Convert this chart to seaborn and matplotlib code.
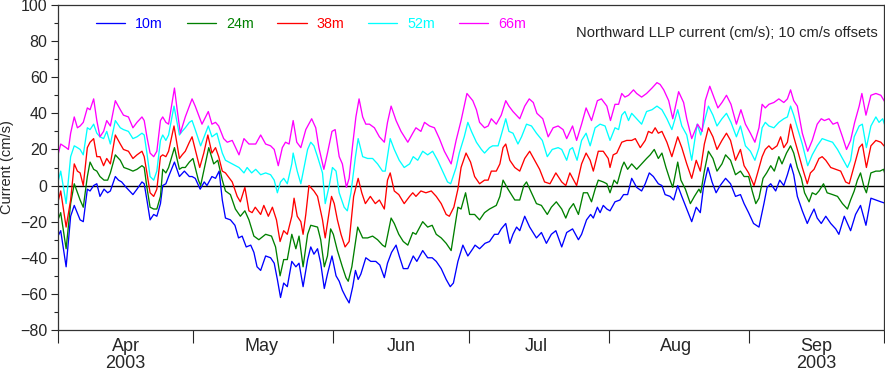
import pandas as pd
import seaborn as sns
import matplotlib.pyplot as plt
import matplotlib.dates as mdates
import matplotlib.ticker as mticker

# values: day offset from 2003-04-01 and current (cm/s, offsets included)
days_10m = [0, 0.6, 1.8, 2.8, 3.6, 4.9, 5.6, 6.5, 7.1, 7.9, 8.6, 9.3, 10.2, 11.0, 11.6, 12.7, 13.4, 14.1, 15.1, 16.6, 17.5, 18.6, 19.1, 19.7, 20.4, 21.2, 21.9, 22.7, 23.2, 23.9, 24.5, 25.8, 26.9, 28.0, 29.1, 29.7,
            30.4, 31.5, 32.4, 33.0, 34.1, 34.9, 35.7, 36.4, 37.1, 38.2, 39.2, 40.0, 40.8, 41.7, 42.7, 43.4, 44.1, 44.9, 46.0, 47.1, 47.9, 48.6, 49.3, 50.0, 50.8, 51.8, 52.7, 53.4, 54.3, 55.3, 56.0, 56.7, 57.5, 58.2, 59.0, 59.7, 60.7,
            61.6, 62.3, 63.0, 63.8, 64.5, 65.3, 65.9, 66.5, 67.1, 68.2, 69.3, 70.4, 71.3, 72.3, 73.0, 73.9, 74.9, 75.6, 76.5, 77.5, 78.7, 79.5, 80.8, 81.9, 82.9, 83.8, 84.9, 86.0, 86.9, 87.6, 88.6, 89.7, 90.8, 91.9,
            92.4, 93.4, 94.6, 95.6, 96.7, 97.5, 98.2, 99.2, 100.1, 100.8, 101.6, 102.3, 103.4, 104.5, 106.0, 107.1, 108.2, 109.3, 110.3, 111.6, 112.7, 114.0, 115.3, 116.0, 117.1, 118.0, 118.6, 119.5, 120.1, 120.8, 121.6,
            122.3, 123.4, 124.5, 125.3, 126.2, 127.1, 128.2, 129.3, 130.1, 131.0, 131.9, 133.0, 133.8, 134.5, 135.6, 136.4, 137.3, 138.2, 139.3, 140.4, 141.4, 142.3, 143.0, 144.0, 144.9, 145.8, 146.7, 147.9, 149.0, 150.1, 151.2, 152.0, 153.0, 154.1,
            155.3, 156.4, 157.1, 157.9, 159.0, 159.9, 160.8, 161.6, 162.3, 163.0, 163.8, 164.9, 166.0, 166.7, 167.5, 168.2, 169.1, 170.1, 171.2, 172.3, 173.0, 174.2, 174.9, 175.6, 176.7, 177.8, 179.0, 180.1, 181.2, 182.3, 183.5]
cur_10m = [-28, -25, -45, -17, -11, -19, -20, -2, -3, 0, 1, -6, -2, -4, -3, 5, 3, 2, -1, -5, -2, 2, 1, -8, -19, -16, -17, -10, 0, 1, 5, 13, 5, 8, 5, 5,
           4, -2, 2, 0, 5, 4, 8, -8, -18, -19, -22, -29, -28, -34, -33, -37, -45, -47, -39, -40, -43, -52, -62, -54, -56, -42, -45, -43, -56, -41, -34, -38, -35, -43, -57, -49, -39,
           -50, -53, -58, -62, -65, -56, -47, -52, -49, -40, -42, -42, -44, -51, -43, -37, -33, -39, -46, -46, -39, -42, -36, -40, -40, -42, -46, -52, -56, -54, -42, -33, -39, -35,
           -33, -35, -32, -31, -27, -27, -24, -21, -32, -27, -23, -25, -17, -23, -29, -26, -32, -27, -25, -34, -26, -24, -30, -27, -19, -16, -18, -12, -15, -11, -13,
           -14, -9, -8, -5, -5, 4, -1, -3, 1, 7, 5, 1, 0, -5, -6, -8, 0, -6, -13, -20, -12, -15, -1, 10, 2, -4, 0, 4, 1, -6, -5, -10, -15, -21,
           -23, -10, -1, 1, -3, 3, 0, 6, 12, 6, -6, -14, -21, -17, -13, -18, -21, -17, -21, -24, -27, -17, -21, -25, -16, -11, -22, -7, -8, -9, -10]

days_24m = [0, 0.6, 1.8, 2.8, 3.6, 4.9, 5.6, 6.5, 7.1, 7.9, 8.6, 9.3, 10.2, 11.0, 11.6, 12.7, 13.8, 14.6, 15.7, 16.6, 17.5, 18.6, 19.1, 19.7, 20.4, 21.2, 21.9, 22.7, 23.2, 23.9, 24.5, 25.8, 26.9, 27.5, 28.2, 29.1, 29.9,
            30.6, 31.1, 31.6, 33.4, 34.5, 35.4, 36.4, 37.1, 38.2, 39.3, 40.4, 41.4, 42.3, 43.4, 44.5, 46.0, 47.3, 48.2, 49.2, 50.0, 50.8, 51.8, 52.7, 53.4, 54.3, 55.3, 56.0, 57.5, 58.2, 59.0, 59.7, 60.4,
            61.0, 61.9, 63.0, 63.8, 64.3, 65.1, 66.4, 67.5, 68.6, 69.7, 70.8, 71.9, 72.5, 73.8, 74.5, 75.5, 76.5, 77.5, 78.6, 79.3, 80.8, 81.9, 82.9, 83.8, 84.9, 86.0, 87.1, 87.9, 88.6, 89.3, 90.3, 91.2, 92.3,
            93.4, 94.5, 95.6, 97.1, 97.9, 98.6, 99.7, 101.2, 102.3, 103.2, 103.8, 104.9, 106.0, 107.1, 108.4, 109.3, 110.4, 111.6, 112.5, 113.3, 114.2, 115.3, 116.4, 117.3, 118.2, 119.0, 119.7, 120.8, 121.6, 122.3, 123.2,
            123.9, 124.9, 125.4, 126.2, 127.1, 128.2, 129.3, 130.4, 131.2, 132.1, 133.0, 133.8, 134.7, 135.6, 136.2, 137.3, 138.0, 139.0, 140.1, 141.0, 142.0, 142.4, 143.2, 144.1, 145.1, 146.0, 147.1, 147.9, 149.0, 150.1, 151.2, 152.0, 153.0, 153.8, 154.6,
            155.3, 156.2, 157.0, 157.9, 158.7, 159.7, 160.4, 161.4, 162.3, 163.0, 163.8, 164.7, 165.4, 166.4, 167.1, 167.9, 168.6, 169.6, 170.4, 171.6, 172.7, 173.8, 174.9, 175.6, 176.4, 177.1, 177.8, 178.6, 179.1, 180.1, 181.2, 182.1, 182.9, 183.5]
cur_24m = [-19, -15, -35, -10, 1, -8, -12, 5, 13, 9, 8, 5, 3, 3, 7, 17, 14, 10, 9, 8, 9, 11, 10, -1, -12, -13, -13, -6, 9, 7, 10, 21, 9, 10, 10, 13, 15,
           8, 3, 0, 21, 12, 14, 3, -3, -5, -13, -17, -14, -19, -28, -30, -27, -28, -34, -50, -41, -41, -27, -35, -28, -45, -27, -22, -23, -30, -45, -39, -24,
           -27, -36, -45, -51, -53, -45, -23, -29, -29, -28, -30, -33, -34, -18, -21, -27, -31, -33, -26, -27, -20, -23, -22, -27, -29, -32, -36, -23, -12, -13, -4, -16, -16,
           -19, -15, -13, -11, -6, 3, -2, -8, -8, 0, 2, -4, -10, -11, -16, -12, -9, -13, -18, -13, -10, -16, -4, -4, -9, -2, 3, 2, 1, -4, 3,
           1, 10, 13, 9, 12, 9, 12, 15, 17, 20, 15, 18, 10, 3, -1, 13, 3, -2, -10, -6, -2, -4, 8, 19, 15, 8, 12, 17, 14, 6, 8, 5, 5, -3, -10,
           -7, 4, 7, 11, 8, 16, 12, 18, 22, 18, 10, 4, -4, -9, -4, -5, -3, 1, -4, -5, -6, -10, -13, -8, -3, 3, 7, -1, -4, 7, 8, 8, 9, 4]

days_38m = [0, 0.6, 1.8, 2.8, 3.6, 4.3, 4.9, 5.6, 6.5, 7.1, 7.9, 8.6, 9.3, 10.1, 10.8, 11.6, 12.7, 13.8, 14.5, 15.6, 16.6, 17.5, 18.6, 19.1, 19.7, 20.4, 21.2, 21.9, 22.7, 23.2, 23.9, 24.5, 25.7, 26.9, 27.5, 28.2, 29.1, 29.7,
            30.4, 31.4, 32.3, 33.2, 34.1, 34.9, 35.6, 36.4, 37.1, 38.6, 39.7, 40.4, 41.4, 42.3, 43.0, 43.7, 44.9, 45.6, 46.6, 47.5, 48.4, 49.2, 50.0, 50.8, 51.8, 52.3, 53.0, 53.8, 54.3, 54.9, 55.6, 56.7, 57.5, 58.6, 59.2, 60.0, 60.6,
            61.2, 61.9, 62.7, 63.6, 64.5, 65.5, 66.5, 67.3, 68.1, 69.2, 70.3, 71.2, 72.3, 73.0, 73.6, 74.5, 75.5, 76.7, 77.9, 78.6, 79.3, 80.4, 81.5, 82.7, 83.8, 84.9, 86.0, 86.7, 87.7, 88.6, 89.3, 90.4, 91.4, 92.3,
            93.4, 94.5, 95.3, 96.0, 97.1, 97.9, 98.6, 99.2, 100.1, 101.2, 102.3, 103.4, 104.5, 105.6, 106.7, 107.8, 109.0, 110.3, 111.6, 112.5, 113.4, 114.9, 116.0, 117.0, 117.9, 118.6, 119.7, 120.8, 121.9, 122.3, 123.0,
            123.8, 124.9, 126.0, 127.1, 127.9, 129.0, 130.1, 130.8, 131.6, 132.3, 133.0, 133.8, 134.9, 136.0, 137.3, 138.2, 139.3, 140.4, 141.4, 142.3, 143.2, 144.1, 145.1, 146.0, 147.1, 148.1, 149.0, 150.1, 151.2, 152.0, 153.0, 154.2,
            155.0, 156.0, 156.7, 157.5, 158.2, 159.3, 160.1, 160.8, 161.6, 162.3, 163.0, 163.8, 164.9, 166.0, 166.7, 167.5, 168.6, 169.3, 170.1, 171.2, 172.3, 173.4, 174.5, 175.3, 176.4, 177.5, 178.2, 179.1, 180.1, 181.2, 182.3, 183.0, 183.5]
cur_38m = [-9, -3, -23, -8, 12, 8, 7, 0, 21, 24, 26, 16, 16, 11, 15, 12, 28, 23, 20, 19, 15, 17, 19, 16, 7, -4, -6, -2, 16, 17, 16, 19, 33, 15, 17, 19, 24, 27,
           20, 10, 18, 28, 18, 21, 16, 8, 7, 2, -6, -9, -1, -14, -15, -12, -16, -11, -17, -12, -19, -31, -25, -27, -17, -7, -17, -20, -27, -16, 0, -3, -6, -19, -29, -16, -6,
           -10, -19, -27, -34, -31, -6, 4, -4, -10, -6, -10, -8, -13, 3, 7, -3, -5, -10, -6, -4, -6, -3, -4, -3, -6, -10, -16, -17, -12, -2, 10, 18, 13, 5,
           1, 3, 3, 8, 8, 12, 21, 23, 14, 10, 8, 15, 19, 14, 9, 2, 1, 7, 2, 0, 7, 0, 12, 18, 14, 8, 19, 19, 15, 10, 17,
           18, 24, 25, 25, 26, 21, 25, 30, 29, 32, 29, 30, 24, 16, 27, 21, 12, 4, 14, 8, 23, 32, 27, 20, 25, 29, 25, 14, 20, 11, 7, 0,
           7, 16, 20, 22, 20, 22, 27, 21, 24, 34, 27, 20, 10, 1, 7, 9, 15, 16, 14, 10, 9, 8, 2, 1, 11, 21, 23, 10, 22, 25, 24, 22, 21]

days_52m = [0, 0.6, 1.8, 2.8, 3.6, 4.3, 4.9, 5.6, 6.5, 7.1, 7.9, 8.6, 9.3, 10.1, 10.8, 11.6, 12.7, 13.8, 14.5, 15.6, 16.6, 17.5, 18.6, 19.1, 19.7, 20.4, 21.2, 21.9, 22.7, 23.2, 23.9, 24.5, 25.7, 26.9, 27.5, 28.2, 29.1, 29.7,
            30.4, 31.6, 33.3, 34.1, 35.2, 36.4, 37.1, 38.6, 40.1, 41.2, 41.9, 42.9, 43.8, 44.9, 46.0, 47.1, 47.9, 48.6, 49.3, 50.0, 50.8, 51.8, 52.1, 53.0, 53.8, 54.5, 55.3, 56.0, 56.7, 57.5, 58.6, 59.2, 60.1, 60.8, 61.6,
            62.3, 63.4, 64.1, 64.9, 65.9, 66.5, 67.5, 68.6, 69.7, 70.8, 71.9, 72.5, 73.6, 74.5, 75.6, 76.7, 77.9, 78.7, 79.7, 80.8, 81.9, 83.0, 84.1, 85.2, 86.3, 87.0, 88.2, 88.9, 90.0, 90.8, 91.6, 92.7,
            93.8, 94.5, 95.6, 96.3, 97.5, 98.2, 99.2, 99.9, 100.8, 101.9, 102.7, 103.8, 104.9, 106.0, 107.3, 108.4, 109.5, 110.8, 111.6, 112.7, 113.4, 114.0, 115.0, 116.0, 117.0, 117.9, 119.0, 120.1, 121.2, 122.3, 123.4,
            124.2, 124.9, 125.6, 126.4, 127.1, 128.2, 129.3, 130.4, 131.6, 132.7, 133.8, 134.9, 136.0, 137.3, 138.2, 139.3, 140.4, 141.6, 142.4, 144.1, 145.1, 146.0, 147.1, 148.1, 149.1, 150.3, 151.2, 152.3, 153.4, 154.4,
            155.3, 156.0, 156.7, 157.5, 158.6, 159.7, 160.8, 161.6, 162.3, 163.0, 163.8, 164.9, 166.1, 167.1, 168.2, 169.3, 170.4, 171.6, 172.7, 173.8, 174.9, 175.6, 176.4, 177.5, 178.2, 179.1, 180.1, 181.2, 181.9, 182.7, 183.5]
cur_52m = [2, 8, -10, 16, 22, 21, 20, 17, 32, 31, 34, 29, 27, 26, 30, 23, 36, 32, 31, 30, 26, 27, 29, 28, 18, 5, 3, 8, 25, 28, 25, 28, 44, 28, 30, 32, 35, 36,
           31, 22, 33, 27, 29, 18, 14, 12, 10, 7, 10, 7, 9, 6, 7, 6, 3, -4, 2, 4, 1, 12, 18, 8, 1, 10, 20, 24, 22, 16, 7, -10, 0, 10, 8,
           -4, -12, -14, -4, 16, 26, 16, 15, 15, 12, 8, 8, 26, 20, 14, 10, 12, 16, 14, 19, 17, 19, 14, 8, 2, 1, 10, 18, 27, 35, 30, 24,
           20, 18, 21, 22, 22, 28, 37, 30, 29, 23, 27, 34, 33, 29, 25, 16, 20, 21, 20, 14, 20, 21, 14, 25, 29, 22, 32, 34, 33, 25, 32,
           31, 39, 41, 36, 40, 37, 34, 41, 42, 44, 42, 37, 31, 42, 33, 28, 14, 34, 28, 44, 39, 33, 37, 40, 35, 27, 33, 22, 19, 14,
           21, 32, 35, 33, 32, 35, 37, 38, 44, 39, 32, 23, 11, 17, 22, 26, 25, 24, 20, 15, 10, 14, 27, 33, 34, 21, 33, 38, 35, 37, 31]

days_66m = [0, 0.6, 1.8, 2.3, 2.8, 3.6, 4.3, 4.9, 5.6, 6.5, 7.1, 7.9, 8.6, 9.3, 10.1, 10.8, 11.6, 12.7, 13.8, 14.5, 15.6, 16.6, 17.5, 18.6, 19.1, 19.7, 20.4, 21.2, 21.9, 22.7, 23.2, 23.9, 24.5, 25.8, 26.4, 27.1, 28.2, 29.7,
            30.4, 31.9, 33.3, 34.1, 34.9, 35.6, 36.7, 37.5, 38.6, 40.1, 41.2, 42.3, 43.8, 44.9, 46.0, 47.1, 47.9, 48.8, 49.7, 50.4, 51.2, 52.1, 52.9, 53.8, 54.9, 56.2, 57.1, 57.8, 58.9, 59.7, 60.7, 61.4,
            62.3, 63.0, 63.9, 64.5, 65.3, 66.0, 66.7, 67.5, 68.2, 69.0, 70.1, 71.2, 72.3, 73.0, 73.8, 74.9, 76.0, 77.5, 78.6, 79.3, 80.4, 81.2, 82.3, 83.4, 84.5, 85.6, 87.1, 88.2, 89.3, 90.6, 91.9,
            92.7, 93.4, 94.5, 95.3, 96.0, 97.1, 98.2, 99.2, 99.9, 100.8, 102.3, 103.4, 104.4, 105.3, 106.1, 107.4, 108.6, 109.7, 110.8, 111.9, 112.7, 114.0, 114.9, 116.0, 117.0, 118.2, 119.5, 120.4, 121.6, 122.4, 123.4,
            124.2, 124.9, 125.6, 126.4, 127.5, 128.2, 129.3, 130.4, 131.6, 132.7, 133.4, 134.2, 135.3, 136.2, 137.5, 138.6, 139.3, 140.4, 141.7, 142.7, 143.4, 144.4, 145.3, 146.2, 147.1, 148.1, 149.1, 150.3, 151.3, 152.3, 153.4, 154.4,
            155.3, 156.0, 156.7, 157.5, 158.6, 159.7, 160.8, 161.6, 162.3, 163.0, 163.8, 164.9, 166.1, 167.1, 168.2, 169.1, 169.8, 170.8, 171.7, 172.7, 173.8, 174.7, 175.6, 176.5, 177.5, 178.1, 179.0, 180.1, 181.2, 182.3, 183.5]
cur_66m = [17, 23, 21, 20, 29, 38, 32, 33, 35, 43, 42, 48, 36, 27, 30, 36, 33, 47, 42, 39, 38, 32, 35, 38, 36, 27, 18, 16, 19, 36, 38, 35, 34, 54, 42, 29, 38, 48,
           44, 34, 41, 34, 35, 33, 26, 24, 25, 17, 26, 23, 23, 28, 23, 22, 20, 11, 21, 24, 23, 36, 24, 21, 31, 37, 32, 21, 9, 18, 30, 31,
           16, 12, -1, 4, 23, 38, 48, 38, 34, 34, 32, 27, 24, 35, 44, 36, 30, 24, 29, 32, 30, 35, 33, 32, 26, 19, 12, 25, 36, 51, 47,
           42, 35, 32, 33, 37, 34, 39, 47, 44, 41, 37, 44, 48, 46, 40, 37, 27, 32, 33, 31, 26, 33, 25, 34, 43, 36, 47, 48, 44, 36, 45,
           45, 51, 49, 50, 53, 51, 49, 51, 54, 57, 56, 53, 47, 37, 52, 46, 37, 26, 34, 30, 47, 55, 49, 43, 46, 50, 45, 34, 42, 34, 29, 24,
           32, 45, 43, 45, 46, 48, 46, 48, 53, 47, 44, 29, 19, 25, 34, 37, 36, 37, 34, 35, 27, 20, 25, 35, 44, 51, 39, 50, 51, 50, 45]

depths = ['10m', '24m', '38m', '52m', '66m']
colors = ['#0000ff', '#008000', '#ff0000', '#00ffff', '#ff00ff']
month_names = ['Apr', 'May', 'Jun', 'Jul', 'Aug', 'Sep']

start = pd.Timestamp('2003-04-01')
frames = []
for name, d, v in zip(depths,
                      [days_10m, days_24m, days_38m, days_52m, days_66m],
                      [cur_10m, cur_24m, cur_38m, cur_52m, cur_66m]):
    frames.append(pd.DataFrame({'time': start + pd.to_timedelta(d, unit='D'),
                                'current': v, 'depth': name}))
df = pd.concat(frames, ignore_index=True)

sns.set_style('ticks')
plt.rcParams['font.family'] = ['Liberation Sans', 'DejaVu Sans']

fig = plt.figure(figsize=(8.85, 3.72), dpi=100)
ax = fig.add_axes([58/885, 1 - 330/372, 826/885, 325/372])

sns.lineplot(data=df, x='time', y='current', hue='depth', palette=colors,
             estimator=None, sort=False, linewidth=0.95,
             solid_joinstyle='round', solid_capstyle='round', ax=ax)
ax.axhline(0, color='black', lw=1.0, zorder=1)

ax.set_xlim(start, pd.Timestamp('2003-10-01'))
ax.set_ylim(-80, 100)
ax.yaxis.set_major_locator(mticker.MultipleLocator(20))
ax.yaxis.set_minor_locator(mticker.MultipleLocator(10))

ax.xaxis.set_major_locator(mdates.MonthLocator())
ax.xaxis.set_major_formatter(mticker.NullFormatter())
ax.xaxis.set_minor_locator(mdates.MonthLocator(bymonthday=16))


def month_label(x, pos):
    m = mdates.num2date(x).month
    lab = month_names[m - 4] if 4 <= m <= 9 else ''
    if m in (4, 9):
        lab += '\n2003'
    return lab


ax.xaxis.set_minor_formatter(mticker.FuncFormatter(month_label))
ax.tick_params(axis='x', which='major', length=9.5, width=0.8)
ax.tick_params(axis='x', which='minor', length=0, labelsize=13, pad=6)
ax.tick_params(axis='y', which='major', length=5, width=0.8, labelsize=11.5, pad=2.5)
ax.tick_params(axis='y', which='minor', length=3, width=0.8)
for lab in ax.xaxis.get_minorticklabels():
    lab.set_linespacing(0.95)

for s in ax.spines.values():
    s.set_color('#333333')
    s.set_linewidth(0.9)

ax.set_xlabel('')
ax.set_ylabel('Current (cm/s)', fontsize=10.5)
ax.yaxis.set_label_coords(-0.053, 0.5)

handles, labels = ax.get_legend_handles_labels()
ax.legend(handles, labels, ncol=5, frameon=False, loc='center left',
          bbox_to_anchor=(0.046, 0.942), fontsize=10.3, labelcolor='linecolor',
          handlelength=2.05, handletextpad=0.7, columnspacing=1.65,
          borderpad=0, borderaxespad=0)

ax.text(0.993, 0.913, 'Northward LLP current (cm/s); 10 cm/s offsets',
        transform=ax.transAxes, ha='right', va='center', fontsize=10.6)

fig.savefig('out.png', dpi=100)
